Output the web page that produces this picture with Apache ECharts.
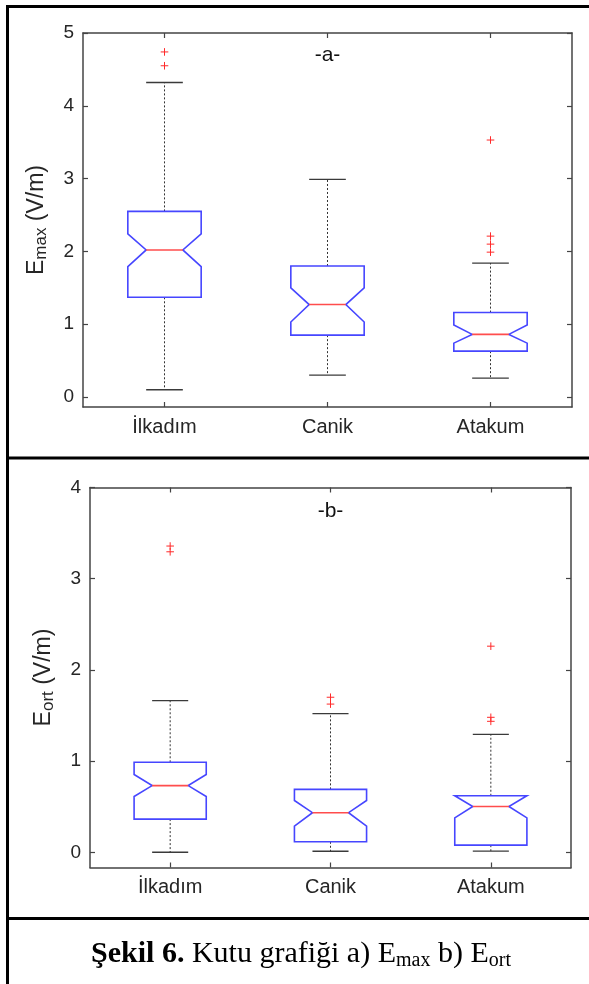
<!DOCTYPE html>
<html>
<head>
<meta charset="utf-8">
<script src="https://cdn.jsdelivr.net/npm/echarts@6/dist/echarts.min.js"></script>
<style>
html,body{margin:0;padding:0;background:#fff;}
#chart{width:589px;height:984px;}
</style>
</head>
<body>
<div id="chart"></div>
<script>
// ---------- data ----------
const categories = ['İlkadım', 'Canik', 'Atakum'];
const yTicksA = [0, 1, 2, 3, 4, 5];
const yTicksB = [0, 1, 2, 3, 4];

// Panel a: E_max (V/m)
const emaxWhiskerLow  = [0.10, 0.30, 0.26];
const emaxQ1          = [1.37, 0.85, 0.63];
const emaxNotchLow    = [1.79, 1.03, 0.74];
const emaxMedian      = [2.02, 1.27, 0.86];
const emaxNotchHigh   = [2.24, 1.50, 0.99];
const emaxQ3          = [2.55, 1.80, 1.16];
const emaxWhiskerHigh = [4.32, 2.99, 1.84];
const emaxOutliers    = [[0, 4.74], [0, 4.55], [2, 3.53], [2, 2.21], [2, 2.10], [2, 1.99]];

// Panel b: E_ort (V/m)
const eortWhiskerLow  = [0.00, 0.011, 0.013];
const eortQ1          = [0.364, 0.115, 0.078];
const eortNotchLow    = [0.612, 0.286, 0.377];
const eortMedian      = [0.731, 0.434, 0.502];
const eortNotchHigh   = [0.853, 0.568, 0.620];
const eortQ3          = [0.987, 0.690, 0.620];
const eortWhiskerHigh = [1.662, 1.521, 1.292];
const eortOutliers    = [[0, 3.358], [0, 3.295], [1, 1.700], [1, 1.625], [2, 2.260], [2, 1.480], [2, 1.436]];

// ---------- helpers ----------
function boxData(lo, q1, nl, med, nh, q3, hi) {
  return categories.map((c, i) => [i, lo[i], q1[i], nl[i], med[i], nh[i], q3[i], hi[i]]);
}

const BOX_COLOR = '#4646ff';
const MED_COLOR = '#ff4d4d';
const WHISK_COLOR = '#333333';

function renderBox(params, api) {
  const i = api.value(0);
  const v = k => api.value(k);
  const P = val => api.coord([i, val]);
  const x = P(v(4))[0];
  const bw = api.size([1, 0])[0] * 0.45;
  const h = bw / 2, inner = h / 2, cap = h / 2;
  const yLo = P(v(1))[1], yQ1 = P(v(2))[1], yNL = P(v(3))[1], yMed = P(v(4))[1],
        yNH = P(v(5))[1], yQ3 = P(v(6))[1], yHi = P(v(7))[1];
  return {
    type: 'group',
    children: [
      { type: 'line', shape: { x1: x, y1: yQ3, x2: x, y2: yHi },
        style: { stroke: WHISK_COLOR, lineWidth: 1, lineDash: [2, 2] } },
      { type: 'line', shape: { x1: x, y1: yQ1, x2: x, y2: yLo },
        style: { stroke: WHISK_COLOR, lineWidth: 1, lineDash: [2, 2] } },
      { type: 'line', shape: { x1: x - cap, y1: yHi, x2: x + cap, y2: yHi },
        style: { stroke: '#3a3a3a', lineWidth: 1.3 } },
      { type: 'line', shape: { x1: x - cap, y1: yLo, x2: x + cap, y2: yLo },
        style: { stroke: '#3a3a3a', lineWidth: 1.3 } },
      { type: 'polygon', shape: { points: [
          [x - h, yQ1], [x - h, yNL], [x - inner, yMed], [x - h, yNH], [x - h, yQ3],
          [x + h, yQ3], [x + h, yNH], [x + inner, yMed], [x + h, yNL], [x + h, yQ1]
        ] },
        style: { stroke: BOX_COLOR, fill: null, lineWidth: 1.6 } },
      { type: 'line', shape: { x1: x - inner, y1: yMed, x2: x + inner, y2: yMed },
        style: { stroke: MED_COLOR, lineWidth: 1.6 } }
    ]
  };
}

function renderPlus(params, api) {
  const p = api.coord([api.value(0), api.value(1)]);
  const s = 3.8;
  return {
    type: 'group',
    children: [
      { type: 'line', shape: { x1: p[0] - s, y1: p[1], x2: p[0] + s, y2: p[1] },
        style: { stroke: '#ff2a2a', lineWidth: 1 } },
      { type: 'line', shape: { x1: p[0], y1: p[1] - s, x2: p[0], y2: p[1] + s },
        style: { stroke: '#ff2a2a', lineWidth: 1 } }
    ]
  };
}

const AX = '#444';
const FONT = "'Liberation Sans', Arial, sans-serif";

function xAxes(gridIndex) {
  const common = {
    type: 'category', gridIndex, data: categories, boundaryGap: true,
    axisLine: { show: true, onZero: false, lineStyle: { color: AX, width: 1.5 } },
    axisTick: { show: true, inside: true, alignWithLabel: true, length: 5, lineStyle: { color: AX, width: 1.2 } },
    splitLine: { show: false }
  };
  return [
    Object.assign({}, common, { position: 'bottom',
      axisLabel: { show: true, fontSize: 20, color: '#262626', fontFamily: FONT, margin: 10 } }),
    Object.assign({}, common, { position: 'top', axisLabel: { show: false } })
  ];
}

function yAxes(gridIndex, min, max, ticks, nameRich) {
  const common = {
    type: 'value', gridIndex, min, max,
    axisLine: { show: true, onZero: false, lineStyle: { color: AX, width: 1.5 } },
    axisTick: { show: true, inside: true, length: 5, customValues: ticks, lineStyle: { color: AX, width: 1.2 } },
    splitLine: { show: false }
  };
  return [
    Object.assign({}, common, { position: 'left',
      name: nameRich, nameLocation: 'middle', nameRotate: 90, nameGap: 33,
      nameTextStyle: {
        color: '#262626', fontFamily: FONT, fontSize: 23,
        rich: {
          e: { fontSize: 23, fontFamily: FONT, color: '#262626', lineHeight: 27, verticalAlign: 'middle' },
          s: { fontSize: 17, fontFamily: FONT, color: '#262626', lineHeight: 17, verticalAlign: 'bottom' }
        }
      },
      axisLabel: { show: true, fontSize: 19, color: '#262626', fontFamily: FONT, margin: 9,
        customValues: ticks, formatter: v => String(Math.round(v)) } }),
    Object.assign({}, common, { position: 'right', axisLabel: { show: false } })
  ];
}

const chart = echarts.init(document.getElementById('chart'), null, { renderer: 'canvas' });

const option = {
  backgroundColor: '#ffffff',
  animation: false,
  grid: [
    { left: 83, top: 33, width: 489, height: 374, outerBoundsMode: 'none' },
    { left: 90, top: 487.5, width: 481, height: 380, outerBoundsMode: 'none' }
  ],
  xAxis: [...xAxes(0), ...xAxes(1)],
  yAxis: [
    ...yAxes(0, -0.137, 5, yTicksA, '{e|E}{s|max}{e| (V/m)}'),
    ...yAxes(1, -0.167, 4, yTicksB, '{e|E}{s|ort}{e| (V/m)}')
  ],
  series: [
    { type: 'custom', xAxisIndex: 0, yAxisIndex: 0, renderItem: renderBox,
      data: boxData(emaxWhiskerLow, emaxQ1, emaxNotchLow, emaxMedian, emaxNotchHigh, emaxQ3, emaxWhiskerHigh),
      encode: { x: 0, y: [1, 2, 3, 4, 5, 6, 7] }, z: 3 },
    { type: 'custom', xAxisIndex: 0, yAxisIndex: 0, renderItem: renderPlus,
      data: emaxOutliers, encode: { x: 0, y: 1 }, z: 4 },
    { type: 'custom', xAxisIndex: 2, yAxisIndex: 2, renderItem: renderBox,
      data: boxData(eortWhiskerLow, eortQ1, eortNotchLow, eortMedian, eortNotchHigh, eortQ3, eortWhiskerHigh),
      encode: { x: 0, y: [1, 2, 3, 4, 5, 6, 7] }, z: 3 },
    { type: 'custom', xAxisIndex: 2, yAxisIndex: 2, renderItem: renderPlus,
      data: eortOutliers, encode: { x: 0, y: 1 }, z: 4 }
  ],
  graphic: [
    // panel frame
    { type: 'line', shape: { x1: 7.5, y1: 5, x2: 7.5, y2: 984 }, style: { stroke: '#000', lineWidth: 3 } },
    { type: 'line', shape: { x1: 6, y1: 6.5, x2: 589, y2: 6.5 }, style: { stroke: '#000', lineWidth: 3 } },
    { type: 'line', shape: { x1: 6, y1: 458, x2: 589, y2: 458 }, style: { stroke: '#000', lineWidth: 3 } },
    { type: 'line', shape: { x1: 6, y1: 918.5, x2: 589, y2: 918.5 }, style: { stroke: '#000', lineWidth: 3 } },
    // panel labels
    { type: 'text', x: 327.5, y: 55, style: { text: '-a-', fontSize: 21, fontFamily: FONT, fill: '#111',
      align: 'center', verticalAlign: 'middle' } },
    { type: 'text', x: 330.5, y: 511, style: { text: '-b-', fontSize: 21, fontFamily: FONT, fill: '#111',
      align: 'center', verticalAlign: 'middle' } },
    // caption
    { type: 'text', x: 301, y: 954, style: {
      text: '{b|Şekil 6.}{r| Kutu grafiği a) E}{s|max}{r| b) E}{s|ort}',
      align: 'center', verticalAlign: 'middle',
      rich: {
        b: { fontFamily: "'Liberation Serif', serif", fontWeight: 'bold', fontSize: 30, fill: '#000', lineHeight: 34, verticalAlign: 'middle' },
        r: { fontFamily: "'Liberation Serif', serif", fontSize: 30, fill: '#000', lineHeight: 34, verticalAlign: 'middle' },
        s: { fontFamily: "'Liberation Serif', serif", fontSize: 20, fill: '#000', lineHeight: 23, verticalAlign: 'bottom' }
      }
    } }
  ]
};

chart.setOption(option);
</script>
</body>
</html>
